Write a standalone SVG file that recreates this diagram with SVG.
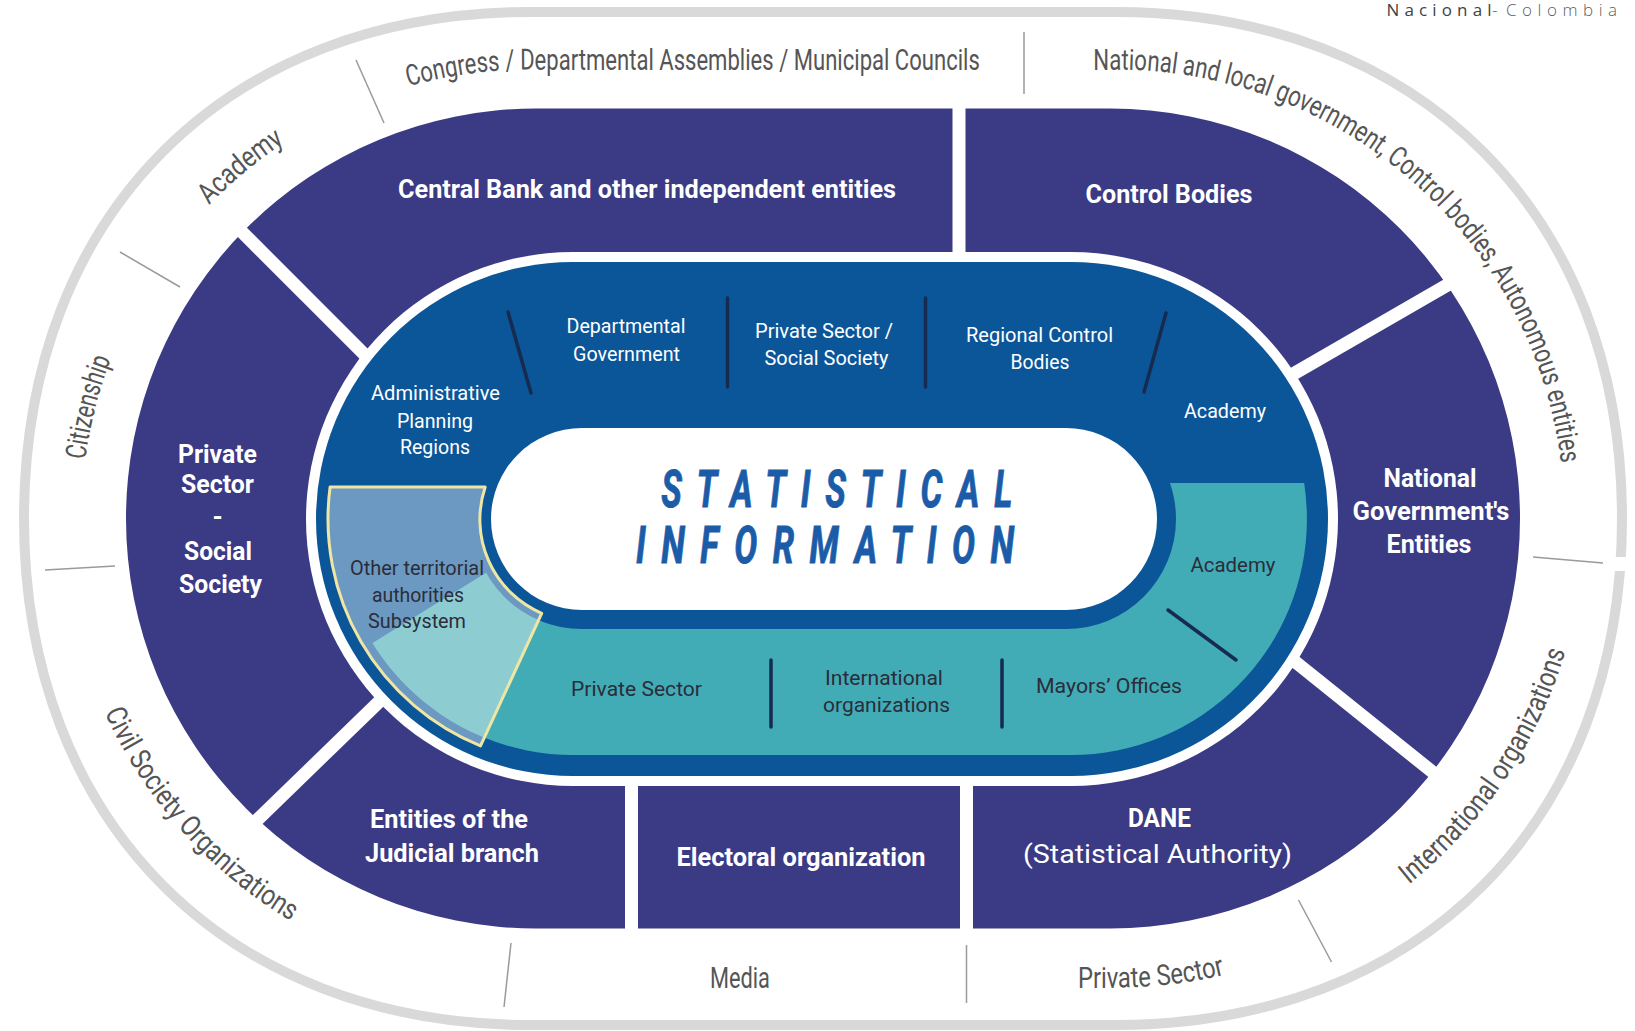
<svg xmlns="http://www.w3.org/2000/svg" width="1635" height="1031" viewBox="0 0 1635 1031">
<style>
.out{font-family:Roboto,'Liberation Sans',sans-serif;font-size:29px;fill:#555;text-anchor:middle}
.pw{font-family:Roboto,'Liberation Sans',sans-serif;font-weight:700;font-size:26px;fill:#fff;text-anchor:middle}
.bw{font-family:Roboto,'Liberation Sans',sans-serif;font-weight:400;font-size:21px;fill:#fff;text-anchor:middle}
.tk{font-family:Roboto,'Liberation Sans',sans-serif;font-weight:400;font-size:21px;fill:#2b2d3a;text-anchor:middle}
.title{font-family:Roboto,'Liberation Sans',sans-serif;font-weight:700;font-style:italic;font-size:52px;fill:#1b5ca8;stroke:#1b5ca8;stroke-width:1;text-anchor:middle}
.tick{stroke:#9a9a9a;stroke-width:1.5;fill:none}
.sep{stroke:#ffffff;stroke-width:13;fill:none}
.isep{stroke:#172a4f;stroke-width:3.5;stroke-linecap:round;fill:none}
.brand{font-family:'Open Sans','Liberation Sans',sans-serif;font-size:17px}
</style>
<defs>
<path id="up" d="M 81.5,518.5 A 449 449 0 0 1 530.5,69.5 L 1115.5,69.5 A 449 449 0 0 1 1564.5,518.5"/>
<path id="down" d="M 62.5,518.5 A 469 469 0 0 0 530.5,987.5 L 1115.5,987.5 A 469 469 0 0 0 1584.5,518.5"/>
<clipPath id="tealClip"><polygon points="573,519 -100,935 -100,1100 1700,1100 1700,483 1066,483 1066,519"/></clipPath>
</defs>
<rect width="1635" height="1031" fill="#ffffff"/>

<g id="outer-ring">
<path d="M 530.5,12 L 1115.5,12 C 1419.4,12 1622,214.6 1622,518.5 C 1622,822.4 1419.4,1025 1115.5,1025 L 530.5,1025 C 226.6,1025 24,822.4 24,518.5 C 24,214.6 226.6,12 530.5,12 Z" fill="none" stroke="#d9d9d9" stroke-width="10"/>
<rect x="1608" y="557" width="27" height="14" fill="#ffffff"/>
</g>

<g id="outer-dividers">
<line class="tick" x1="356" y1="60" x2="384" y2="123"/>
<line class="tick" x1="120" y1="252" x2="180" y2="287"/>
<line class="tick" x1="45" y1="570" x2="115" y2="566"/>
<line class="tick" x1="511" y1="943" x2="504" y2="1007"/>
<line class="tick" x1="966.5" y1="945" x2="966.5" y2="1003"/>
<line class="tick" x1="1298.5" y1="900" x2="1331.5" y2="962"/>
<line class="tick" x1="1533" y1="557" x2="1603" y2="563"/>
<line class="tick" x1="1024" y1="32" x2="1024" y2="94"/>
</g>

<g id="outer-labels">
<g id="lbl-citizenship"><text class="out"><textPath href="#up" startOffset="111" textLength="104" lengthAdjust="spacingAndGlyphs">Citizenship</textPath></text></g>
<g id="lbl-academy-outer"><text class="out"><textPath href="#up" startOffset="396" textLength="98" lengthAdjust="spacingAndGlyphs">Academy</textPath></text></g>
<g id="lbl-congress"><text class="out"><textPath href="#up" startOffset="868" textLength="573" lengthAdjust="spacingAndGlyphs">Congress / Departmental Assemblies / Municipal Councils</textPath></text></g>
<g id="lbl-national-local"><text class="out"><textPath href="#up" startOffset="1604" textLength="672" lengthAdjust="spacingAndGlyphs">National and local government, Control bodies, Autonomous entities</textPath></text></g>
<g id="lbl-civil"><text class="out"><textPath href="#down" startOffset="342" textLength="284" lengthAdjust="spacingAndGlyphs">Civil Society Organizations</textPath></text></g>
<g id="lbl-media"><text class="out"><textPath href="#down" startOffset="945" textLength="60" lengthAdjust="spacingAndGlyphs">Media</textPath></text></g>
<g id="lbl-private-outer"><text class="out"><textPath href="#down" startOffset="1357" textLength="148" lengthAdjust="spacingAndGlyphs">Private Sector</textPath></text></g>
<g id="lbl-international-outer"><text class="out"><textPath href="#down" startOffset="1780" textLength="285" lengthAdjust="spacingAndGlyphs">International organizations</textPath></text></g>
</g>

<g id="purple-ring">
<path d="M 536,108.5 L 1110,108.5 A 410 410 0 0 1 1110,928.5 L 536,928.5 A 410 410 0 0 1 536,108.5 Z" fill="#3b3a84"/>
<path d="M 573,252 L 1071,252 A 267 267 0 0 1 1071,786 L 573,786 A 267 267 0 0 1 573,252 Z" fill="#ffffff"/>
<g id="purple-dividers">
<line class="sep" x1="959" y1="100" x2="959" y2="262"/>
<line class="sep" x1="236" y1="226" x2="370" y2="360"/>
<line class="sep" x1="386" y1="695" x2="252" y2="825"/>
<line class="sep" x1="631.5" y1="776" x2="631.5" y2="937"/>
<line class="sep" x1="966.5" y1="776" x2="966.5" y2="937"/>
<line class="sep" x1="1288" y1="656" x2="1440" y2="778"/>
<line class="sep" x1="1288" y1="377" x2="1456" y2="280"/>
</g>
</g>

<g id="node-central-bank"><text class="pw" x="647" y="198" textLength="498" lengthAdjust="spacingAndGlyphs">Central Bank and other independent entities</text></g>
<g id="node-control-bodies"><text class="pw" x="1169" y="203" textLength="167" lengthAdjust="spacingAndGlyphs">Control Bodies</text></g>
<g id="node-private-social">
<text class="pw" x="217.5" y="463" textLength="79" lengthAdjust="spacingAndGlyphs">Private</text>
<text class="pw" x="217.5" y="493" textLength="73" lengthAdjust="spacingAndGlyphs">Sector</text>
<text class="pw" x="217.5" y="526">-</text>
<text class="pw" x="218" y="560" textLength="68" lengthAdjust="spacingAndGlyphs">Social</text>
<text class="pw" x="220.5" y="593" textLength="83" lengthAdjust="spacingAndGlyphs">Society</text>
</g>
<g id="node-national-gov">
<text class="pw" x="1430" y="487" textLength="93" lengthAdjust="spacingAndGlyphs">National</text>
<text class="pw" x="1431" y="520" textLength="157" lengthAdjust="spacingAndGlyphs">Government's</text>
<text class="pw" x="1429" y="553" textLength="85" lengthAdjust="spacingAndGlyphs">Entities</text>
</g>
<g id="node-judicial">
<text class="pw" x="449" y="828" textLength="158" lengthAdjust="spacingAndGlyphs">Entities of the</text>
<text class="pw" x="452" y="862" textLength="174" lengthAdjust="spacingAndGlyphs">Judicial branch</text>
</g>
<g id="node-electoral"><text class="pw" x="801" y="866" textLength="249" lengthAdjust="spacingAndGlyphs">Electoral organization</text></g>
<g id="node-dane">
<text class="pw" x="1159.5" y="827" textLength="63" lengthAdjust="spacingAndGlyphs">DANE</text>
<text x="1157.5" y="863" textLength="269" lengthAdjust="spacingAndGlyphs" style="font-family:Roboto,'Liberation Sans',sans-serif;font-size:26px;fill:#ffffff;text-anchor:middle">(Statistical Authority)</text>
</g>

<g id="blue-ring">
<path d="M 573,262 L 1071,262 A 257 257 0 0 1 1071,776 L 573,776 A 257 257 0 0 1 573,262 Z" fill="#0b5699"/>
<path clip-path="url(#tealClip)" fill-rule="evenodd" fill="#41acb5" d="M 573,283 L 1071,283 A 236 236 0 0 1 1071,755 L 573,755 A 236 236 0 0 1 573,283 Z M 582,409 L 1066,409 A 110 110 0 0 1 1066,629 L 582,629 A 110 110 0 0 1 582,409 Z"/>
<path d="M 582,428 L 1066,428 A 91 91 0 0 1 1066,610 L 582,610 A 91 91 0 0 1 582,428 Z" fill="#ffffff"/>
</g>

<g id="inner-dividers">
<line class="isep" x1="508" y1="312" x2="531" y2="393"/>
<line class="isep" x1="727.5" y1="298" x2="727.5" y2="387"/>
<line class="isep" x1="925.5" y1="298" x2="925.5" y2="387"/>
<line class="isep" x1="1166" y1="313" x2="1144" y2="392"/>
<line class="isep" x1="1168" y1="610" x2="1236" y2="660"/>
<line class="isep" x1="771" y1="660" x2="771" y2="727"/>
<line class="isep" x1="1002" y1="660" x2="1002" y2="727"/>
</g>

<g id="node-admin-planning">
<text class="bw" x="435.5" y="400" textLength="129" lengthAdjust="spacingAndGlyphs">Administrative</text>
<text class="bw" x="435" y="428" textLength="76" lengthAdjust="spacingAndGlyphs">Planning</text>
<text class="bw" x="435" y="454" textLength="70" lengthAdjust="spacingAndGlyphs">Regions</text>
</g>
<g id="node-departmental">
<text class="bw" x="626" y="333" textLength="119" lengthAdjust="spacingAndGlyphs">Departmental</text>
<text class="bw" x="626.5" y="361" textLength="107" lengthAdjust="spacingAndGlyphs">Government</text>
</g>
<g id="node-private-social-inner">
<text class="bw" x="824" y="338" textLength="138" lengthAdjust="spacingAndGlyphs">Private Sector /</text>
<text class="bw" x="826.5" y="365" textLength="124" lengthAdjust="spacingAndGlyphs">Social Society</text>
</g>
<g id="node-regional-control">
<text class="bw" x="1039.5" y="342" textLength="147" lengthAdjust="spacingAndGlyphs">Regional Control</text>
<text class="bw" x="1040" y="369" textLength="59" lengthAdjust="spacingAndGlyphs">Bodies</text>
</g>
<g id="node-academy-blue"><text class="bw" x="1225" y="418" textLength="82" lengthAdjust="spacingAndGlyphs">Academy</text></g>

<g id="node-academy-teal"><text class="tk" x="1233" y="572" textLength="85" lengthAdjust="spacingAndGlyphs">Academy</text></g>
<g id="node-mayors"><text class="tk" x="1109" y="693" textLength="146" lengthAdjust="spacingAndGlyphs">Mayors’ Offices</text></g>
<g id="node-international-inner">
<text class="tk" x="884" y="685" textLength="118" lengthAdjust="spacingAndGlyphs">International</text>
<text class="tk" x="886.5" y="712" textLength="127" lengthAdjust="spacingAndGlyphs">organizations</text>
</g>
<g id="node-private-inner"><text class="tk" x="636.5" y="696" textLength="131" lengthAdjust="spacingAndGlyphs">Private Sector</text></g>

<g id="node-other-territorial">
<path d="M 330.1,487 L 485.2,487 A 102 102 0 0 0 541.7,613.3 L 480.5,745.9 A 245 245 0 0 1 330.1,487 Z" fill="#ffffff" fill-opacity="0.4" stroke="#efe6a3" stroke-width="3" stroke-linejoin="round"/>
<text class="tk" x="417" y="575" textLength="134" lengthAdjust="spacingAndGlyphs">Other territorial</text>
<text class="tk" x="418" y="602" textLength="92" lengthAdjust="spacingAndGlyphs">authorities</text>
<text class="tk" x="417" y="628" textLength="98" lengthAdjust="spacingAndGlyphs">Subsystem</text>
</g>

<g id="node-statistical-information">
<text class="title" transform="translate(836.75,507) scale(0.66,1)" x="0" y="0" textLength="532" lengthAdjust="spacing">STATISTICAL</text>
<text class="title" transform="translate(825,563) scale(0.66,1)" x="0" y="0" textLength="573" lengthAdjust="spacing">INFORMATION</text>
</g>

<g id="brand">
<text class="brand" x="1386.5" y="16" textLength="105" lengthAdjust="spacing" style="font-weight:400;fill:#3d4247">Nacional</text>
<text class="brand" x="1492" y="16" style="font-weight:300;fill:#5a5f66">-</text>
<text class="brand" x="1506" y="16" textLength="111" lengthAdjust="spacing" style="font-weight:300;fill:#5a5f66">Colombia</text>
</g>
</svg>
